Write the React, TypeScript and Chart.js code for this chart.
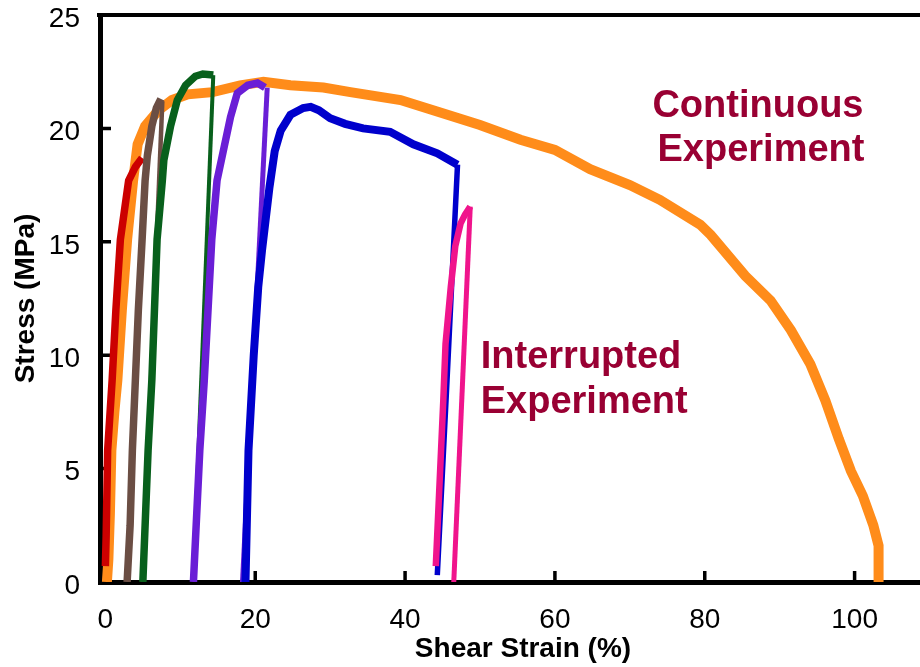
import React, { useEffect, useRef } from "react";
import { Chart, registerables } from "chart.js";

Chart.register(...registerables);

// Axis ticks
const xTickValues = [0, 20, 40, 60, 80, 100];
const yTickValues = [0, 5, 10, 15, 20, 25];

// [shear strain %, stress MPa]
const continuous: [number, number][] = [
  [0.2, 0], [0.4, 1], [0.6, 3], [0.8, 5.8], [1.2, 7.5], [1.6, 8.9], [2.2, 12], [2.9, 15.1],
  [3.7, 17.7], [4.3, 19.3], [5.3, 20.1], [7.1, 20.8], [8.9, 21.25], [11, 21.5], [14.3, 21.6],
  [18, 21.9], [21.1, 22.05], [24.7, 21.9], [29.1, 21.8], [32.7, 21.6], [39.4, 21.25],
  [44.7, 20.7], [50, 20.15], [55.4, 19.5], [60, 19.05], [64.7, 18.2], [70, 17.5], [74, 16.85],
  [79.4, 15.75], [80.8, 15.3], [85.4, 13.5], [88.8, 12.4], [91.5, 11.1], [94.1, 9.6],
  [96.1, 8.0], [97.9, 6.3], [99.5, 4.9], [101.1, 3.8], [102.5, 2.5], [103.2, 1.6], [103.2, 0],
];

const run1: [number, number][] = [
  [0, 0.7], [0.1, 2], [0.3, 5.8], [0.9, 8.9], [1.4, 12], [2.0, 15.1], [3.1, 17.7], [4.0, 18.3], [4.9, 18.7],
];

const run2: [number, number][] = [
  [2.9, 0], [3.3, 2.5], [3.6, 5.8], [4.0, 8.9], [4.4, 12], [4.9, 15.1], [5.3, 17.7], [5.6, 18.8],
  [6.2, 20.1], [6.8, 20.9], [7.4, 21.3],
];
const run2Unload: [number, number][] = [[7.6, 21.2], [5.0, 0]];

const run3: [number, number][] = [
  [5.0, 0], [5.7, 5.8], [6.2, 8.9], [6.9, 15.1], [7.6, 17.7], [7.8, 18.6], [8.7, 20.1], [9.6, 21.25],
  [10.7, 21.9], [12.0, 22.3], [13.0, 22.4], [14.4, 22.35],
];
const run3Unload: [number, number][] = [[14.4, 22.35], [11.8, 0.6]];

const run4: [number, number][] = [
  [11.75, 0], [12.6, 5.8], [13.2, 8.9], [14.2, 15.1], [14.9, 17.7], [16.7, 20.5], [17.6, 21.55],
  [19, 21.9], [20.3, 22.0], [21.3, 21.8],
];
const run4Unload: [number, number][] = [[21.6, 21.8], [18.3, 0]];

const run5: [number, number][] = [
  [18.7, 0], [19.1, 5.8], [19.8, 10], [20.4, 13], [20.9, 14.6], [21.9, 17.4], [22.6, 19.0],
  [23.4, 19.9], [24.7, 20.6], [26.4, 20.9], [27.4, 20.95], [28.5, 20.8], [30.0, 20.45], [32, 20.2],
  [34.4, 20.0], [38, 19.85], [41.1, 19.3], [44.3, 18.9], [47, 18.4],
];
const run5Unload: [number, number][] = [[47, 18.4], [45.6, 8.9], [44.3, 0.3]];

const run6: [number, number][] = [
  [44.1, 0.7], [44.5, 3.6], [45.1, 8.0], [45.4, 10.5], [46.1, 13.0], [46.7, 14.8], [47.4, 15.8],
  [48.0, 16.2], [48.7, 16.55],
];
const run6Unload: [number, number][] = [[48.7, 16.55], [46.5, 0]];

const toPts = (arr: [number, number][]) => arr.map(([x, y]) => ({ x, y }));

const FONT = "'Liberation Sans', Arial, Helvetica, sans-serif";

const framePlugin = {
  id: "frame",
  beforeDatasetsDraw(chart: any) {
    const { ctx, chartArea, scales } = chart;
    ctx.save();
    ctx.strokeStyle = "#000";
    ctx.lineWidth = 4;
    ctx.beginPath();
    ctx.moveTo(chartArea.left - 3, chartArea.top);
    ctx.lineTo(chartArea.right, chartArea.top);
    ctx.stroke();
    ctx.lineWidth = 3.5;
    ctx.beginPath();
    for (const v of xTickValues) {
      const px = scales.x.getPixelForValue(v);
      ctx.moveTo(px, chartArea.bottom);
      ctx.lineTo(px, chartArea.bottom - 11);
    }
    for (const v of yTickValues) {
      if (v === 0 || v === 25) continue;
      const py = scales.y.getPixelForValue(v);
      ctx.moveTo(chartArea.left, py);
      ctx.lineTo(chartArea.left + 11, py);
    }
    ctx.stroke();
    ctx.restore();
  },
  afterDraw(chart: any) {
    const { ctx, scales } = chart;
    const X = (v: number) => scales.x.getPixelForValue(v);
    const Y = (v: number) => scales.y.getPixelForValue(v);
    ctx.save();
    ctx.fillStyle = "#990033";
    ctx.font = `bold 38px ${FONT}`;
    ctx.textBaseline = "alphabetic";
    ctx.textAlign = "center";
    ctx.fillText("Continuous", X(87.1), Y(20.5));
    ctx.fillText("Experiment", X(87.5), Y(18.56));
    ctx.textAlign = "left";
    ctx.fillText("Interrupted", X(50.1), Y(9.44));
    ctx.fillText("Experiment", X(50.1), Y(7.45));
    ctx.restore();
  },
};

function line(data: [number, number][], color: string, width: number, order: number) {
  return {
    data: toPts(data),
    borderColor: color,
    backgroundColor: color,
    borderWidth: width,
    pointRadius: 0,
    showLine: true,
    tension: 0,
    fill: false,
    order,
  };
}

export default function App() {
  const ref = useRef<HTMLCanvasElement | null>(null);
  useEffect(() => {
    if (!ref.current) return;
    const chart = new Chart(ref.current, {
      type: "scatter",
      data: {
        datasets: [
          line(continuous, "#FF8C1A", 10, 20),
          line(run1, "#CC0000", 7.5, 12),
          line(run2, "#6B4E44", 7.5, 11),
          line(run2Unload, "#6B4E44", 4.5, 11),
          line(run3, "#08601C", 7.5, 9),
          line(run3Unload, "#08601C", 4, 9),
          line(run4, "#6A1ED6", 7.5, 7),
          line(run4Unload, "#6A1ED6", 5, 7),
          line(run5, "#0000CC", 8, 5),
          line(run5Unload, "#0000CC", 5.5, 5),
          line(run6, "#F0148C", 6.5, 3),
          line(run6Unload, "#F0148C", 5, 3),
        ] as any,
      },
      options: {
        animation: false,
        responsive: false,
        layout: { padding: { top: 15, right: 0, left: 0, bottom: 0 } },
        plugins: { legend: { display: false }, tooltip: { enabled: false } },
        scales: {
          x: {
            type: "linear",
            min: -0.72,
            max: 112.2,
            afterBuildTicks: (s: any) => {
              s.ticks = xTickValues.map((v) => ({ value: v }));
            },
            afterFit: (s: any) => {
              s.height = 85;
              s.paddingLeft = 0;
              s.paddingRight = 0;
            },
            grid: { display: false, drawTicks: false },
            border: { display: true, color: "#000", width: 5 },
            ticks: { color: "#000", padding: 21, font: { family: FONT, size: 28 }, maxRotation: 0 },
            title: {
              display: true,
              text: "Shear Strain (%)",
              color: "#000",
              font: { family: FONT, size: 28, weight: "bold" },
              padding: { top: 0, bottom: 1 },
            },
          },
          y: {
            type: "linear",
            min: 0,
            max: 25,
            afterBuildTicks: (s: any) => {
              s.ticks = yTickValues.map((v) => ({ value: v }));
            },
            afterFit: (s: any) => {
              s.width = 100;
              s.paddingTop = 0;
              s.paddingBottom = 0;
            },
            grid: { display: false, drawTicks: false },
            border: { display: true, color: "#000", width: 5 },
            ticks: { color: "#000", padding: 20, labelOffset: 4, font: { family: FONT, size: 28 } },
            title: {
              display: true,
              text: "Stress (MPa)",
              color: "#000",
              font: { family: FONT, size: 28, weight: "bold" },
              padding: { top: 9, bottom: 0 },
            },
          },
        },
      },
      plugins: [framePlugin],
    });
    return () => chart.destroy();
  }, []);
  return (
    <div style={{ position: "absolute", left: 0, top: 0, width: 920, height: 667, overflow: "hidden", background: "#fff" }}>
      <canvas ref={ref} width={946} height={667} style={{ display: "block" }} />
    </div>
  );
}
